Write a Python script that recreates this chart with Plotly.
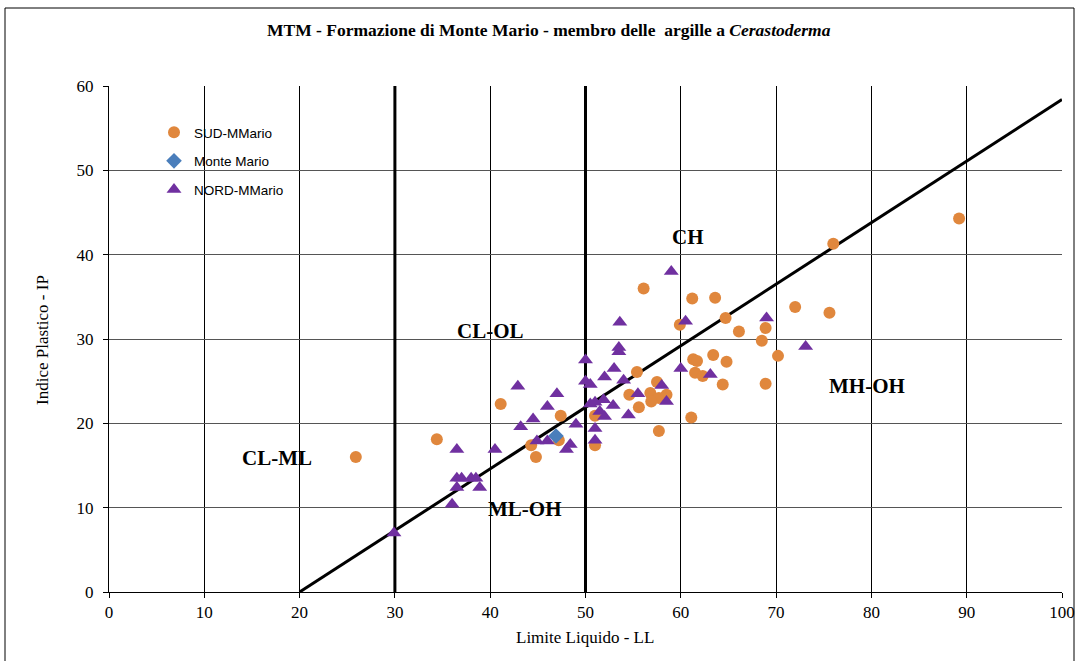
import plotly.graph_objects as go

# ---- data ----
sud_ll = [25.9, 34.4, 41.1, 44.3, 44.8, 47.4, 47.2, 51.0, 51.0, 55.4, 54.6, 56.1, 57.5, 56.8,
          57.7, 58.5, 56.9, 55.6, 57.7, 59.9, 61.2, 63.6, 64.7, 61.1, 61.3, 61.7, 63.4, 64.8,
          61.5, 62.3, 64.4, 66.1, 68.9, 68.5, 70.2, 68.9, 72.0, 75.6, 76.0, 89.2]
sud_ip = [16.0, 18.1, 22.3, 17.4, 16.0, 20.9, 18.0, 20.9, 17.4, 26.1, 23.4, 36.0, 24.9, 23.6,
          23.0, 23.4, 22.6, 21.9, 19.1, 31.7, 34.8, 34.9, 32.5, 20.7, 27.6, 27.4, 28.1, 27.3,
          26.0, 25.6, 24.6, 30.9, 31.3, 29.8, 28.0, 24.7, 33.8, 33.1, 41.3, 44.3]

mm_ll = [46.9]
mm_ip = [18.5]

nord_ll = [29.9, 36.0, 36.5, 38.9, 36.5, 37.0, 38.0, 38.5, 36.5, 40.5, 43.2, 44.5, 46.0, 47.0,
           42.9, 44.9, 46.0, 48.4, 48.0, 49.0, 50.0, 50.0, 50.5, 50.5, 51.0, 51.9, 52.9, 51.5,
           52.0, 51.0, 51.0, 52.0, 53.0, 54.0, 53.5, 53.5, 53.6, 54.5, 55.5, 58.0, 58.5, 59.0,
           60.0, 60.5, 63.1, 69.0, 73.1]
nord_ip = [7.0, 10.4, 12.4, 12.4, 13.5, 13.5, 13.5, 13.5, 16.9, 16.9, 19.6, 20.5, 22.0, 23.5,
           24.4, 17.9, 17.9, 17.5, 16.9, 19.9, 27.5, 25.0, 24.6, 22.3, 22.5, 22.8, 22.1, 21.4,
           20.8, 19.4, 18.0, 25.5, 26.5, 25.1, 29.0, 28.5, 32.0, 21.0, 23.5, 24.5, 22.6, 38.0,
           26.5, 32.1, 25.8, 32.5, 29.1]

aline_ll = [20, 100]
aline_ip = [0, 58.4]
ll_limits = [30, 50]

zone_labels = ["CL-OL", "CH", "MH-OH", "CL-ML", "ML-OH"]
zone_ll = [40.0, 60.8, 79.5, 17.6, 43.7]
zone_ip = [30.9, 42.1, 24.4, 15.9, 9.8]

x_ticks = [0, 10, 20, 30, 40, 50, 60, 70, 80, 90, 100]
y_ticks = [0, 10, 20, 30, 40, 50, 60]

SERIF = "Liberation Serif, Times New Roman, serif"
SANS = "Liberation Sans, Arial, sans-serif"

W, H = 1080, 661
L, R, T, B = 109, 18, 86, 69
PW, PH = W - L - R, H - T - B

fig = go.Figure()

# reference lines
fig.add_trace(go.Scatter(x=aline_ll, y=aline_ip, mode="lines",
                         line=dict(color="black", width=3), showlegend=False, hoverinfo="skip"))
for v in ll_limits:
    fig.add_trace(go.Scatter(x=[v, v], y=[y_ticks[0], y_ticks[-1]], mode="lines",
                             line=dict(color="black", width=3), showlegend=False, hoverinfo="skip"))

fig.add_trace(go.Scatter(x=sud_ll, y=sud_ip, mode="markers", name="SUD-MMario",
                         legendgroup="a",
                         marker=dict(symbol="circle", size=12, color="#E0873D", line=dict(width=0))))
fig.add_trace(go.Scatter(x=mm_ll, y=mm_ip, mode="markers", name="Monte Mario",
                         legendgroup="b",
                         marker=dict(symbol="diamond", size=12, color="#4A7EBB", line=dict(width=0))))
fig.add_trace(go.Scatter(x=nord_ll, y=nord_ip, mode="markers", name="NORD-MMario",
                         legendgroup="c",
                         marker=dict(symbol="triangle-up", size=13, color="#7030A0", line=dict(width=0))))

annotations = []
for t, x, y in zip(zone_labels, zone_ll, zone_ip):
    annotations.append(dict(x=x, y=y, xref="x", yref="y", text=f"<b>{t}</b>", showarrow=False,
                            font=dict(family=SERIF, size=21, color="black")))

# axis titles
annotations.append(dict(x=(585 - L) / PW, y=(H - B - 637) / PH, xref="paper", yref="paper",
                        text="Limite Liquido - LL", showarrow=False,
                        xanchor="center", yanchor="middle",
                        font=dict(family=SERIF, size=17, color="black")))
annotations.append(dict(x=(42 - L) / PW, y=(H - B - 340) / PH, xref="paper", yref="paper",
                        text="Indice Plastico - IP", showarrow=False, textangle=-90,
                        xanchor="center", yanchor="middle",
                        font=dict(family=SERIF, size=17, color="black")))
# title
annotations.append(dict(x=(549 - L) / PW, y=(H - B - 30) / PH, xref="paper", yref="paper",
                        text="<b>MTM - Formazione di Monte Mario - membro delle  argille a <i>Cerastoderma</i></b>",
                        showarrow=False, xanchor="center", yanchor="middle",
                        font=dict(family=SERIF, size=17.5, color="black")))

fig.update_layout(
    width=W, height=H,
    margin=dict(l=L, r=R, t=T, b=B, autoexpand=False),
    paper_bgcolor="white", plot_bgcolor="white",
    xaxis=dict(range=[0, 100], tickvals=x_ticks, showgrid=True, gridcolor="#000000", gridwidth=1,
               zeroline=False, showline=True, linecolor="black", linewidth=1,
               ticks="outside", ticklen=5, tickcolor="black", automargin=False,
               tickfont=dict(family=SERIF, size=17, color="black")),
    yaxis=dict(range=[0, 60], tickvals=y_ticks, showgrid=True, gridcolor="#555555", gridwidth=1,
               zeroline=False, showline=True, linecolor="black", linewidth=1,
               ticks="outside", ticklen=5, tickcolor="black", automargin=False,
               ticklabelstandoff=6,
               tickfont=dict(family=SERIF, size=17, color="black")),
    legend=dict(x=(154 - L) / PW, y=(H - B - 117) / PH, xanchor="left", yanchor="top",
                bgcolor="rgba(255,255,255,0)",
                font=dict(family=SANS, size=13.5, color="black"), tracegroupgap=8, itemwidth=30),
    annotations=annotations,
    shapes=[dict(type="rect", xref="paper", yref="paper",
                 x0=(5 - L) / PW, x1=(1074 - L) / PW, y0=(H - B - 680) / PH, y1=(H - B - 8) / PH,
                 line=dict(color="black", width=1), fillcolor="rgba(0,0,0,0)")],
)

fig.write_html("out.html")
